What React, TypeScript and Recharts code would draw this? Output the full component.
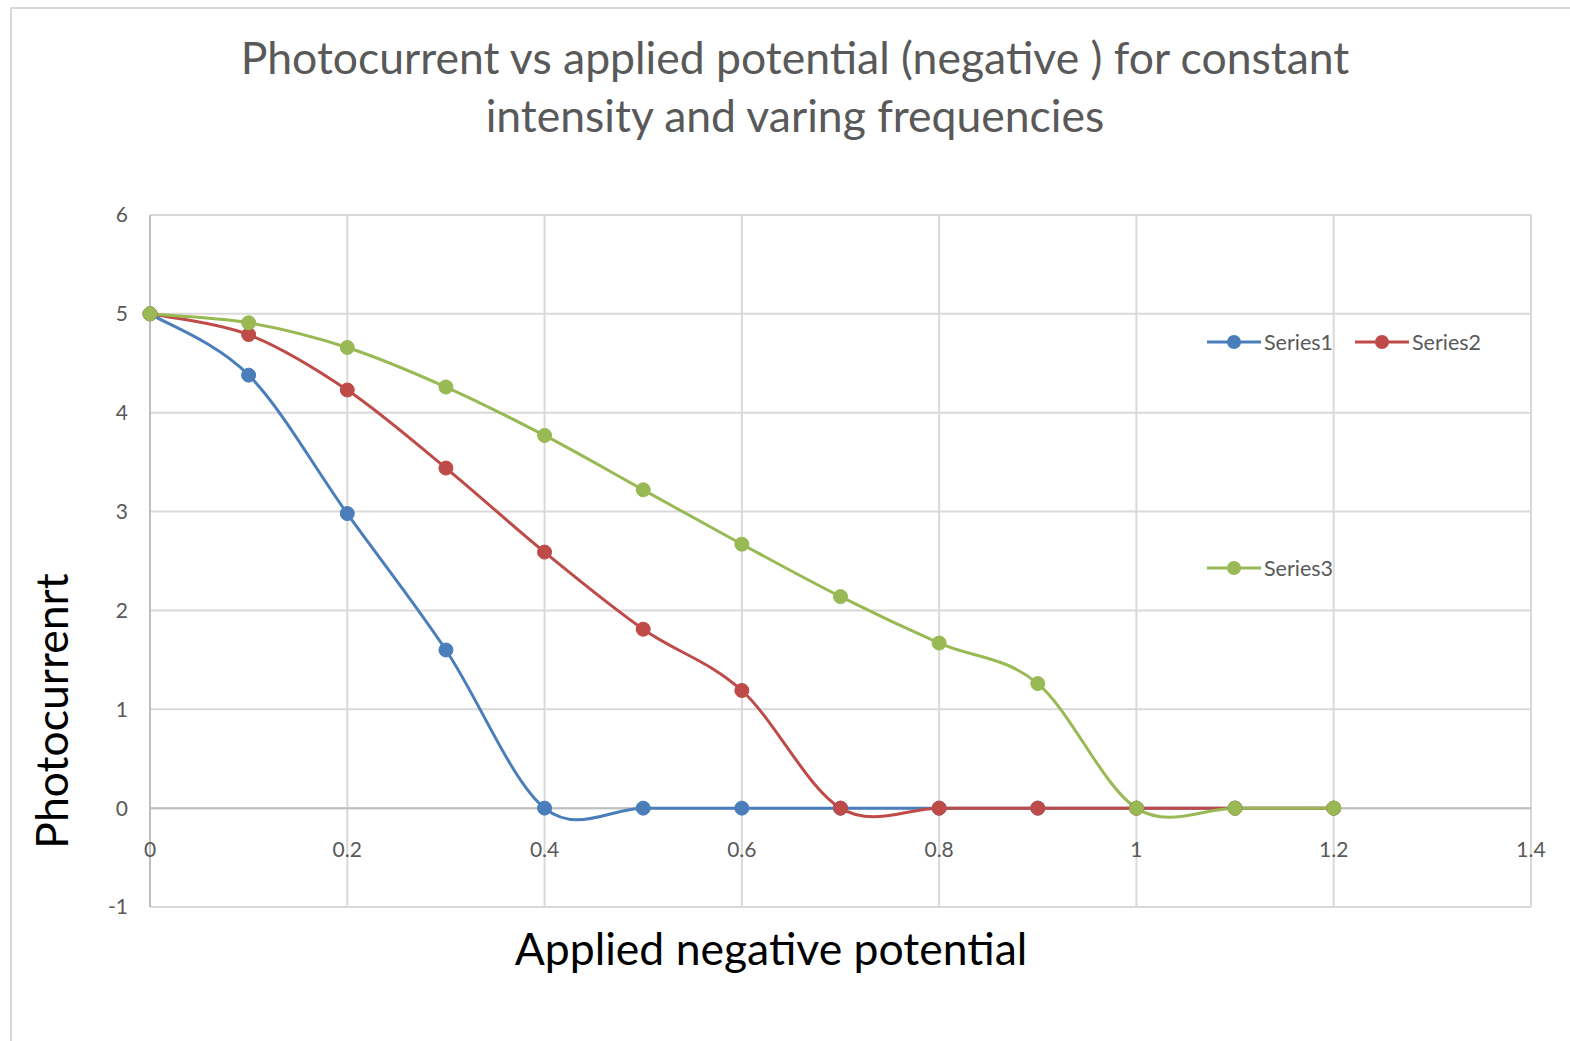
import React from "react";
import { CartesianGrid, Legend, Line, LineChart, ReferenceLine, XAxis, YAxis } from "recharts";

const potentials = [0, 0.1, 0.2, 0.3, 0.4, 0.5, 0.6, 0.7, 0.8, 0.9, 1.0, 1.1, 1.2];
const series1 = [5, 4.38, 2.98, 1.6, 0, 0, 0, 0, 0, 0, 0, 0, 0];
const series2 = [5, 4.79, 4.23, 3.44, 2.59, 1.81, 1.19, 0, 0, 0, 0, 0, 0];
const series3 = [5, 4.91, 4.66, 4.26, 3.77, 3.22, 2.67, 2.14, 1.67, 1.26, 0, 0, 0];
const xTicks = [0, 0.2, 0.4, 0.6, 0.8, 1, 1.2, 1.4];
const yTicks = [-1, 0, 1, 2, 3, 4, 5, 6];

const FONT = "Lato, 'Open Sans', sans-serif";
const GRAY_TEXT = "#595959";
const COLORS = { s1: "#4a7ebb", s2: "#be4b48", s3: "#98b954" };

const data = potentials.map((x, i) => ({ x, s1: series1[i], s2: series2[i], s3: series3[i] }));

// Excel-style smoothed line: cubic bezier through the points, catmull-rom tangents
function excelSmooth(context: any) {
  let pts: number[][] = [];
  return {
    areaStart() {},
    areaEnd() {},
    lineStart() {
      pts = [];
    },
    point(x: number, y: number) {
      pts.push([+x, +y]);
    },
    lineEnd() {
      const n = pts.length;
      if (!n) return;
      context.moveTo(pts[0][0], pts[0][1]);
      for (let i = 0; i < n - 1; i++) {
        const p0 = pts[Math.max(i - 1, 0)];
        const p1 = pts[i];
        const p2 = pts[i + 1];
        const p3 = pts[Math.min(i + 2, n - 1)];
        context.bezierCurveTo(
          p1[0] + (p2[0] - p0[0]) / 6,
          p1[1] + (p2[1] - p0[1]) / 6,
          p2[0] - (p3[0] - p1[0]) / 6,
          p2[1] - (p3[1] - p1[1]) / 6,
          p2[0],
          p2[1]
        );
      }
    },
  };
}

const XTick = (props: any) => {
  const { x, y, payload } = props;
  return (
    <text x={x} y={y - 59} textAnchor="middle" dominantBaseline="central" fill={GRAY_TEXT} fontSize={21} fontFamily={FONT}>
      {payload.value}
    </text>
  );
};

const legendPos: Record<string, { left: number; top: number }> = {
  Series1: { left: 0, top: 0 },
  Series2: { left: 148, top: 0 },
  Series3: { left: 0, top: 226 },
};

const renderLegend = (props: any) => (
  <div style={{ position: "relative", width: 300, height: 260 }}>
    {props.payload.map((item: any) => (
      <div
        key={item.value}
        style={{
          position: "absolute",
          ...legendPos[item.value],
          display: "flex",
          alignItems: "center",
          fontFamily: FONT,
          fontSize: 21.5,
          color: GRAY_TEXT,
          whiteSpace: "nowrap",
        }}
      >
        <svg width={54} height={16}>
          <line x1={0} y1={8} x2={54} y2={8} stroke={item.color} strokeWidth={3} />
          <circle cx={27} cy={8} r={7} fill={item.color} />
        </svg>
        <span style={{ marginLeft: 3 }}>{item.value}</span>
      </div>
    ))}
  </div>
);

export default function App() {
  return (
    <div style={{ position: "absolute", left: 0, top: 0, width: 1570, height: 1041, overflow: "hidden", background: "#fff" }}>
      <div style={{ position: "absolute", left: 10, top: 7, width: 1600, height: 1100, border: "2px solid #d9d9d9" }} />
      <div
        style={{
          position: "absolute",
          left: 0,
          top: 28,
          width: 1590,
          textAlign: "center",
          fontFamily: FONT,
          fontSize: 44.5,
          lineHeight: "58px",
          color: GRAY_TEXT,
        }}
      >
        Photocurrent vs applied potential (negative ) for constant
        <br />
        intensity and varing frequencies
      </div>
      <div
        style={{
          position: "absolute",
          left: 771,
          top: 947,
          transform: "translate(-50%, -50%)",
          whiteSpace: "nowrap",
          fontFamily: FONT,
          fontSize: 44.5,
          color: "#000",
        }}
      >
        Applied negative potential
      </div>
      <div
        style={{
          position: "absolute",
          left: 50,
          top: 711,
          transform: "translate(-50%, -50%) rotate(-90deg)",
          whiteSpace: "nowrap",
          fontFamily: FONT,
          fontSize: 44.5,
          color: "#000",
        }}
      >
        Photocurrenrt
      </div>
      <div style={{ position: "absolute", left: 0, top: 0 }}>
        <LineChart width={1570} height={1041} data={data} margin={{ top: 215, right: 39, bottom: 0, left: 0 }}>
          <CartesianGrid stroke="#d9d9d9" strokeWidth={2} />
          <XAxis
            dataKey="x"
            type="number"
            domain={[0, 1.4]}
            ticks={xTicks}
            axisLine={false}
            tickLine={false}
            tickSize={0}
            tickMargin={0}
            height={134}
            tick={<XTick />}
            interval={0}
          />
          <YAxis
            type="number"
            domain={[-1, 6]}
            ticks={yTicks}
            width={150}
            axisLine={{ stroke: "#bfbfbf", strokeWidth: 2 }}
            tickLine={false}
            tickSize={0}
            tickMargin={22}
            tick={{ fill: GRAY_TEXT, fontSize: 21, fontFamily: FONT }}
            interval={0}
          />
          <ReferenceLine y={0} stroke="#bfbfbf" strokeWidth={2} />
          <Legend
            content={renderLegend}
            layout="horizontal"
            verticalAlign="middle"
            align="center"
            wrapperStyle={{ position: "absolute", left: 1207, top: 329, width: 300, height: 260 }}
          />
          <Line
            dataKey="s1"
            name="Series1"
            type={excelSmooth as any}
            stroke={COLORS.s1}
            strokeWidth={3}
            dot={{ r: 7, fill: COLORS.s1, stroke: COLORS.s1, strokeWidth: 1 }}
            isAnimationActive={false}
          />
          <Line
            dataKey="s2"
            name="Series2"
            type={excelSmooth as any}
            stroke={COLORS.s2}
            strokeWidth={3}
            dot={{ r: 7, fill: COLORS.s2, stroke: COLORS.s2, strokeWidth: 1 }}
            isAnimationActive={false}
          />
          <Line
            dataKey="s3"
            name="Series3"
            type={excelSmooth as any}
            stroke={COLORS.s3}
            strokeWidth={3}
            dot={{ r: 7, fill: COLORS.s3, stroke: COLORS.s3, strokeWidth: 1 }}
            isAnimationActive={false}
          />
        </LineChart>
      </div>
    </div>
  );
}
